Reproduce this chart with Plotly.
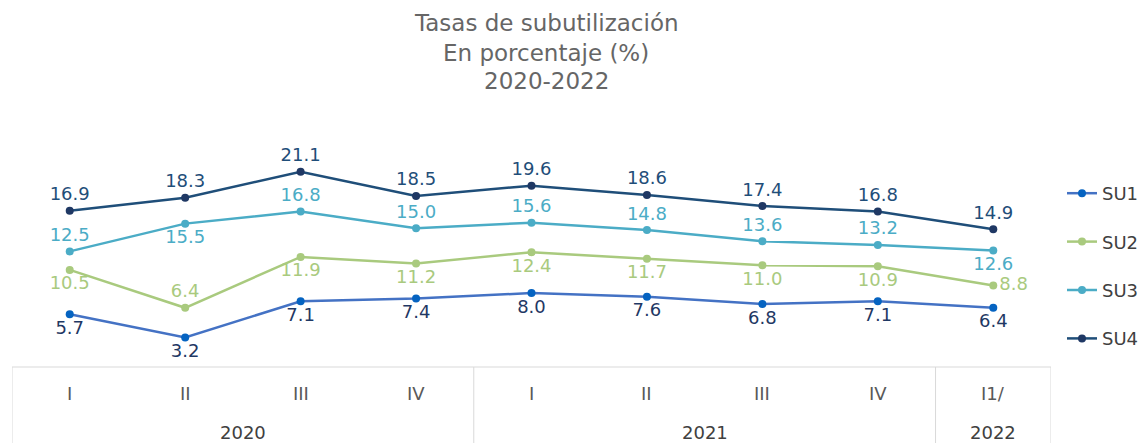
import plotly.graph_objects as go

quarters = ["I", "II", "III", "IV", "I", "II", "III", "IV", "I1/"]
years = ["2020", "2021", "2022"]
year_spans = [(0, 3), (4, 7), (8, 8)]

su1 = [5.7, 3.2, 7.1, 7.4, 8.0, 7.6, 6.8, 7.1, 6.4]
su2 = [10.5, 6.4, 11.9, 11.2, 12.4, 11.7, 11.0, 10.9, 8.8]
su3 = [12.5, 15.5, 16.8, 15.0, 15.6, 14.8, 13.6, 13.2, 12.6]
su4 = [16.9, 18.3, 21.1, 18.5, 19.6, 18.6, 17.4, 16.8, 14.9]

x = list(range(len(quarters)))
FONT = "DejaVu Sans"

series = [
    ("SU1", su1, "#4472C4", "#0563C1", "#1F3864",
     ["bottom center"] * 9),
    ("SU2", su2, "#A9CA7E", "#A9CA7E", "#A9CA7E",
     ["bottom center", "top center"] + ["bottom center"] * 6 + ["middle right"]),
    ("SU3", su3, "#4BACC6", "#4BACC6", "#4BACC6",
     ["top center", "bottom center"] + ["top center"] * 6 + ["bottom center"]),
    ("SU4", su4, "#1F4E79", "#1F3864", "#1F4E79",
     ["top center"] * 9),
]

fig = go.Figure()
for i, (name, vals, lc, mc, tc, pos) in enumerate(series):
    fig.add_trace(go.Scatter(
        x=x, y=vals, name=name, mode="lines+markers+text",
        line=dict(color=lc, width=2.5),
        marker=dict(color=mc, size=8),
        text=[f"{v:.1f}" for v in vals],
        textposition=pos,
        textfont=dict(color=tc, size=18, family=FONT),
        legendgroup=name,
        cliponaxis=False,
    ))

# page body has an 8px margin: work in figure coordinates
OFF = 8
W, H = 1146 - OFF, 443 - OFF
ml = 12 - OFF
mt = 150 - OFF
plot_right = 1051 - OFF
plot_bottom = 367 - OFF
mr = W - plot_right
mb = H - plot_bottom
ph = H - mt - mb
pw = W - ml - mr
ppu = 9.25
ymax = ph / ppu

grid = "#D9D9D9"
shapes = []
bot = -mb / ph
shapes.append(dict(type="line", xref="x", yref="paper", x0=-0.5, x1=8.5, y0=0, y1=0,
                   line=dict(color=grid, width=1)))
for xb in [-0.5, 3.5, 7.5, 8.5]:
    shapes.append(dict(type="line", xref="x", yref="paper", x0=xb, x1=xb, y0=0, y1=bot,
                       line=dict(color=grid, width=1)))

annotations = []
for xi, q in zip(x, quarters):
    annotations.append(dict(x=xi, y=0, xref="x", yref="paper", text=q, showarrow=False,
                            yanchor="middle", yshift=-26,
                            font=dict(size=18, color="#595959", family=FONT)))
for yr, (a, b) in zip(years, year_spans):
    annotations.append(dict(x=(a + b) / 2, y=0, xref="x", yref="paper", text=yr, showarrow=False,
                            yanchor="middle", yshift=-65,
                            font=dict(size=18, color="#404040", family=FONT)))

titles = ["Tasas de subutilización", "En porcentaje (%)", "2020-2022"]
title_y = [23, 53, 81]
for t, ty in zip(titles, title_y):
    annotations.append(dict(x=(546 - OFF - ml) / pw, y=(plot_bottom - (ty - OFF)) / ph,
                            xref="paper", yref="paper",
                            text=t, showarrow=False, xanchor="center", yanchor="middle",
                            font=dict(size=23, color="#666666", family=FONT)))

fig.update_layout(
    width=W, height=H,
    margin=dict(l=ml, r=mr, t=mt, b=mb, autoexpand=False),
    paper_bgcolor="white", plot_bgcolor="white",
    xaxis=dict(range=[-0.5, 8.5], showticklabels=False, showgrid=False, zeroline=False,
               showline=False, ticks="", automargin=False),
    yaxis=dict(range=[0, ymax], visible=False, showgrid=False, zeroline=False,
               automargin=False),
    showlegend=True,
    legend=dict(x=(1062 - OFF) / W, y=1 - (175 - OFF) / H, xref="container", yref="container",
                xanchor="left", yanchor="top",
                font=dict(size=18, color="#404040", family=FONT),
                tracegroupgap=22, itemwidth=30, bgcolor="rgba(0,0,0,0)"),
    shapes=shapes, annotations=annotations,
    font=dict(family=FONT),
)

fig.write_html("out.html")
